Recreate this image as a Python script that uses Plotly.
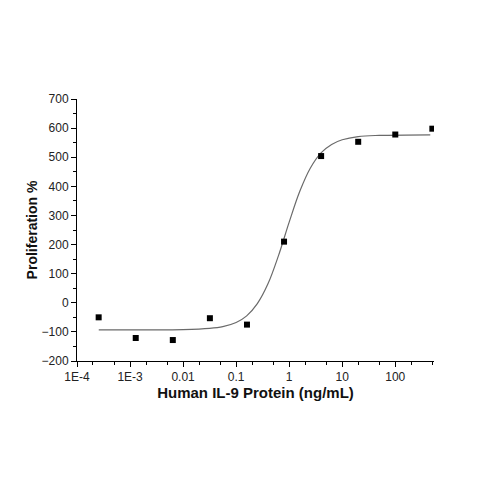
import plotly.graph_objects as go

# Measured data points
conc = [0.000256, 0.00128, 0.0064, 0.032, 0.16, 0.8, 4, 20, 100, 500]
prolif = [-50, -121, -128, -53, -75, 210, 504, 553, 578, 598]

# Fitted curve
curve_conc = [0.000257, 0.001, 0.01, 0.0316, 0.0562, 0.1, 0.158, 0.251, 0.398,
              0.631, 1.0, 1.585, 2.512, 3.981, 6.31, 10.0, 19.95, 50.1, 457]
curve_prolif = [-93, -93, -92, -88, -82, -68, -45, -3, 65,
                163, 277, 383, 463, 515, 544, 560, 571, 575, 577]

tick_vals = [1e-4, 1e-3, 1e-2, 1e-1, 1, 10, 100]
tick_text = ["1E-4", "1E-3", "0.01", "0.1", "1", "10", "100"]
y_ticks = [-200, -100, 0, 100, 200, 300, 400, 500, 600, 700]

fig = go.Figure()
fig.add_trace(go.Scatter(x=curve_conc, y=curve_prolif, mode="lines",
                         line=dict(color="#6a6a6a", width=1.2, shape="spline", smoothing=1.0),
                         showlegend=False, hoverinfo="skip"))
fig.add_trace(go.Scatter(x=conc, y=prolif, mode="markers",
                         marker=dict(symbol="square", size=6, color="black"),
                         showlegend=False))

fig.update_layout(
    width=471, height=471,
    margin=dict(l=69, r=45, t=91, b=118),
    paper_bgcolor="white", plot_bgcolor="white",
    font=dict(family="Liberation Sans, Arial, sans-serif", color="#222", size=12),
    xaxis=dict(type="log", range=[-4, 2.73],
               tickvals=tick_vals, ticktext=tick_text,
               showline=True, linecolor="black", linewidth=1,
               ticks="outside", ticklen=5, tickcolor="black", tickwidth=1,
               minor=dict(ticks="outside", ticklen=3, tickcolor="black", tickwidth=1),
               showgrid=False, zeroline=False,
               title=dict(text="<b>Human IL-9 Protein (ng/mL)</b>", font=dict(size=15, color="#111"), standoff=4)),
    yaxis=dict(range=[-200, 700], tickvals=y_ticks,
               showline=True, linecolor="black", linewidth=1,
               ticks="outside", ticklen=5, tickcolor="black", tickwidth=1,
               minor=dict(ticks="outside", ticklen=3, tickcolor="black", tickwidth=1, dtick=50),
               showgrid=False, zeroline=False,
               title=dict(text="<b>Proliferation %</b>", font=dict(size=14, color="#111"), standoff=0)),
)

fig.write_html("out.html")
